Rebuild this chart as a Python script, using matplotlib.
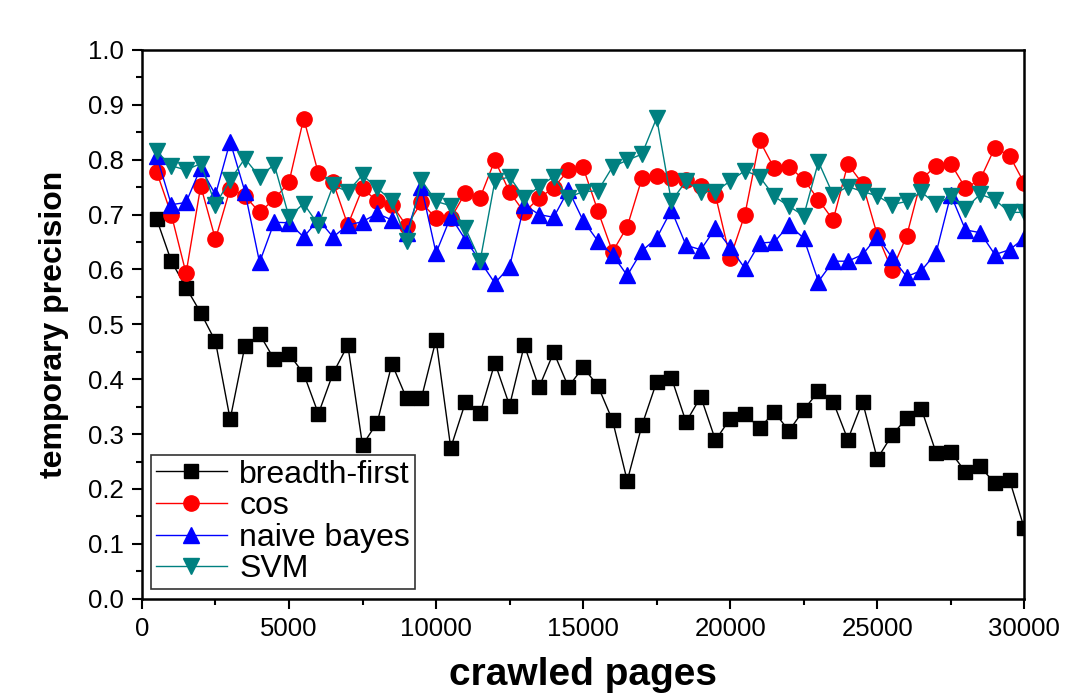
import numpy as np
import matplotlib
matplotlib.use("Agg")
import matplotlib.pyplot as plt
from matplotlib.ticker import MultipleLocator

plt.rcParams['font.family'] = ['Liberation Sans', 'DejaVu Sans']

pages = np.arange(500, 30001, 500)

breadth_first = [0.692, 0.615, 0.567, 0.521, 0.469, 0.327, 0.460, 0.482, 0.436, 0.446,
                 0.410, 0.337, 0.411, 0.462, 0.280, 0.321, 0.428, 0.365, 0.365, 0.472,
                 0.275, 0.358, 0.338, 0.430, 0.352, 0.462, 0.385, 0.449, 0.386, 0.422,
                 0.388, 0.325, 0.215, 0.316, 0.395, 0.403, 0.322, 0.368, 0.289, 0.328,
                 0.337, 0.311, 0.340, 0.306, 0.344, 0.378, 0.359, 0.290, 0.359, 0.255,
                 0.298, 0.329, 0.346, 0.266, 0.267, 0.231, 0.241, 0.210, 0.216, 0.128]

cos = [0.778, 0.700, 0.593, 0.752, 0.655, 0.747, 0.734, 0.704, 0.728, 0.759,
       0.875, 0.775, 0.759, 0.681, 0.748, 0.724, 0.718, 0.679, 0.722, 0.693,
       0.693, 0.740, 0.731, 0.799, 0.741, 0.704, 0.730, 0.749, 0.781, 0.786,
       0.707, 0.632, 0.678, 0.766, 0.770, 0.767, 0.763, 0.752, 0.735, 0.621,
       0.700, 0.835, 0.784, 0.787, 0.764, 0.727, 0.690, 0.792, 0.756, 0.663,
       0.599, 0.661, 0.764, 0.789, 0.793, 0.748, 0.764, 0.822, 0.807, 0.757]

naive_bayes = [0.807, 0.718, 0.722, 0.785, 0.736, 0.833, 0.742, 0.613, 0.686, 0.685,
               0.659, 0.691, 0.659, 0.681, 0.687, 0.702, 0.690, 0.666, 0.751, 0.630,
               0.696, 0.654, 0.615, 0.575, 0.605, 0.718, 0.700, 0.695, 0.745, 0.689,
               0.652, 0.627, 0.589, 0.634, 0.657, 0.708, 0.644, 0.636, 0.675, 0.640,
               0.602, 0.648, 0.650, 0.681, 0.657, 0.578, 0.615, 0.615, 0.627, 0.660,
               0.622, 0.587, 0.598, 0.630, 0.736, 0.672, 0.667, 0.627, 0.636, 0.657]

svm = [0.815, 0.789, 0.781, 0.793, 0.718, 0.763, 0.802, 0.769, 0.791, 0.696,
       0.720, 0.681, 0.753, 0.742, 0.772, 0.748, 0.725, 0.652, 0.763, 0.724,
       0.716, 0.675, 0.616, 0.761, 0.769, 0.730, 0.751, 0.769, 0.731, 0.742,
       0.743, 0.787, 0.799, 0.810, 0.876, 0.724, 0.761, 0.742, 0.742, 0.761,
       0.780, 0.769, 0.733, 0.715, 0.698, 0.796, 0.736, 0.751, 0.742, 0.734,
       0.718, 0.724, 0.741, 0.719, 0.733, 0.711, 0.737, 0.727, 0.704, 0.704]

fig = plt.figure(figsize=(10.67, 6.93), dpi=100)
ax = fig.add_axes([0.133, 0.136, 0.827, 0.792])

ax.plot(pages, breadth_first, color='black', lw=1, marker='s', ms=10, label='breadth-first')
ax.plot(pages, cos, color='red', lw=1, marker='o', ms=11, label='cos')
ax.plot(pages, naive_bayes, color='blue', lw=1, marker='^', ms=12, label='naive bayes')
ax.plot(pages, svm, color='#008080', lw=1, marker='v', ms=12, label='SVM')

ax.set_xlim(0, 30000)
ax.set_ylim(0, 1.0)
ax.xaxis.set_major_locator(MultipleLocator(5000))
ax.xaxis.set_minor_locator(MultipleLocator(2500))
ax.yaxis.set_major_locator(MultipleLocator(0.1))
ax.yaxis.set_minor_locator(MultipleLocator(0.05))
ax.tick_params(which='major', direction='out', length=7, width=1.5, labelsize=18.5, pad=6)
ax.tick_params(which='minor', direction='out', length=4, width=1.5)
ax.tick_params(top=False, right=False, which='both')
for s in ax.spines.values():
    s.set_linewidth(1.8)

ax.set_xlabel('crawled pages', fontsize=28, fontweight='bold', labelpad=12)
ax.set_ylabel('temporary precision', fontsize=23, fontweight='bold', labelpad=14)

leg = ax.legend(loc='lower left', fontsize=23, frameon=True, fancybox=False,
                edgecolor='black', handlelength=2.2, borderpad=0.15, labelspacing=0.05,
                handletextpad=0.4, borderaxespad=0.3)
leg.get_frame().set_linewidth(1.2)

fig.savefig('out.png', dpi=100)
